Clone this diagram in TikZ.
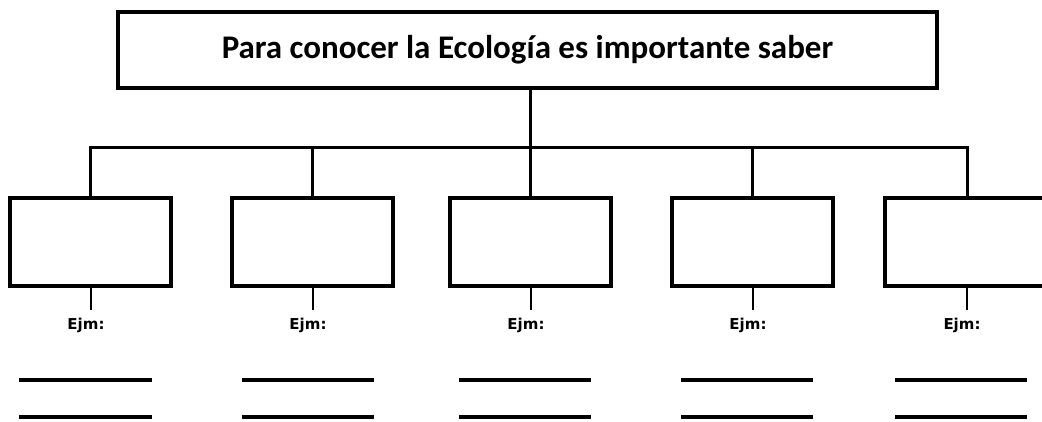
\documentclass[tikz,border=0pt]{standalone}
\usepackage{fontspec}
\setmainfont{Carlito}
\newfontfamily\ejmfont{DejaVu Sans}
\usepackage{tikz}
\usetikzlibrary{positioning}

\begin{document}
\begin{tikzpicture}[x=1pt, y=-1pt, line width=3pt,
  caja/.style={draw, line width=3.5pt, minimum width=161pt, minimum height=88pt, inner sep=0pt},
  ejm/.style={font=\ejmfont\bfseries\fontsize{15}{17}\selectfont, inner sep=0pt},
  raya/.style={line width=3.5pt}]
			\useasboundingbox (0,0) rectangle (1042,421);
			\node[draw, line width=3.5pt, minimum width=819pt, minimum height=76pt, inner sep=0pt,
			  font=\bfseries\fontsize{33}{38}\selectfont] (tema) at (527.5,50) {Para conocer la Ecología es importante saber};
			\node[caja] (c1) at (90.5,242) {};
			\node[caja] (c2) at (312.5,242) {};
			\node[caja] (c3) at (530.5,242) {};
			\node[caja] (c4) at (752.5,242) {};
			\node[caja, minimum width=164pt] (c5) at (967,242) {};
			\coordinate (ramal) at (530,147);
			\draw (tema.south -| ramal) -- (ramal);
			\draw (c1.north) |- (ramal) -| (c5.north);
			\draw (c2.north) -- (c2.north |- ramal);
			\draw (c3.north) -- (c3.north |- ramal);
			\draw (c4.north) -- (c4.north |- ramal);
			\node[ejm] (e1) at (86,325) {Ejm:};
			\node[ejm] (e2) at (308,325) {Ejm:};
			\node[ejm] (e3) at (526,325) {Ejm:};
			\node[ejm] (e4) at (748,325) {Ejm:};
			\node[ejm] (e5) at (962,325) {Ejm:};
			\draw [line width=2pt] (c1.south) -- ++(0,22);
			\draw [line width=2pt] (c2.south) -- ++(0,22);
			\draw [line width=2pt] (c3.south) -- ++(0,22);
			\draw [line width=2pt] (c4.south) -- ++(0,22);
			\draw [line width=2pt] (c5.south) -- ++(0,22);
			\draw [raya] (19,380) -- (152,380);
			\draw [raya] (19,417) -- (152,417);
			\draw [raya] (242,380) -- (374,380);
			\draw [raya] (242,417) -- (374,417);
			\draw [raya] (459,380) -- (591,380);
			\draw [raya] (459,417) -- (591,417);
			\draw [raya] (681,380) -- (813,380);
			\draw [raya] (681,417) -- (813,417);
			\draw [raya] (895,380) -- (1027,380);
			\draw [raya] (895,417) -- (1027,417);
		\end{tikzpicture}
\end{document}
